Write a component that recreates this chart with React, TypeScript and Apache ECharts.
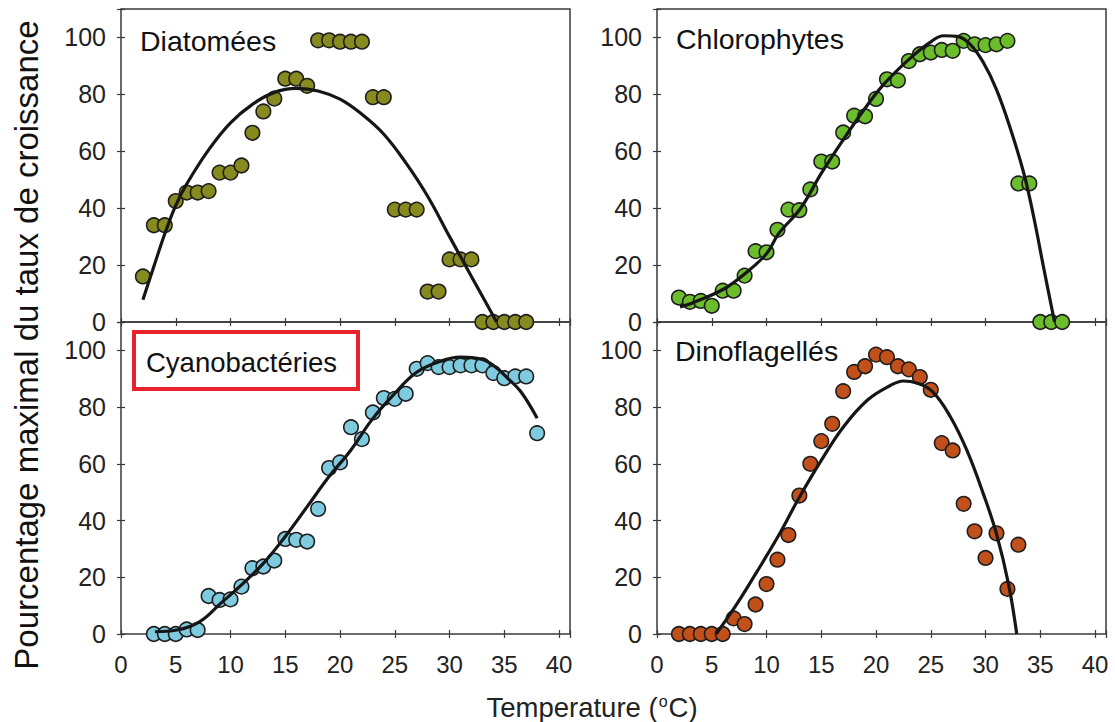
import React, { useEffect, useRef } from "react";
import * as echarts from "echarts";

// ---------- Data ----------
const panelNames = ["Diatomées", "Chlorophytes", "Cyanobactéries", "Dinoflagellés"];
const xTicks = [0, 5, 10, 15, 20, 25, 30, 35, 40];
const yTicks = [0, 20, 40, 60, 80, 100];

const diaTemps = [2, 3, 4, 5, 6, 7, 8, 9, 10, 11, 12, 13, 14, 15, 16, 17, 18, 19, 20, 21, 22, 23, 24, 25, 26, 27, 28, 29, 30, 31, 32, 33, 34, 35, 36, 37];
const diaValues = [16, 34, 34, 42.5, 45.5, 45.5, 46, 52.5, 52.5, 55, 66.5, 74, 78.5, 85.5, 85.5, 83, 99, 99, 98.5, 98.5, 98.5, 79, 79, 39.5, 39.5, 39.5, 10.7, 10.7, 22, 22, 22, 0, 0, 0, 0, 0];
const diaCurveX = [2, 3, 4, 5, 6, 8, 10, 12, 14, 16, 18, 20, 22, 24, 26, 28, 30, 32, 34.3];
const diaCurveY = [7.8, 19.5, 31, 41, 48.5, 60.5, 70, 76.5, 80.7, 82.1, 81.2, 78.3, 73, 66, 56, 44.2, 30, 16, 0];

const chlTemps = [2, 3, 4, 5, 6, 7, 8, 9, 10, 11, 12, 13, 14, 15, 16, 17, 18, 19, 20, 21, 22, 23, 24, 25, 26, 27, 28, 29, 30, 31, 32, 33, 34, 35, 36, 37];
const chlValues = [8.6, 7.1, 7.4, 5.7, 11, 11, 16.3, 24.9, 24.5, 32.4, 39.5, 39.3, 46.6, 56.4, 56.4, 66.6, 72.5, 72.3, 78.4, 85.3, 84.9, 91.7, 94.1, 94.7, 95.6, 95.3, 98.8, 97.6, 97.3, 97.6, 98.8, 48.7, 48.7, 0, 0, 0];
const chlCurveX = [2.1, 3.3, 6.1, 8, 10, 11.1, 13.1, 15, 17, 18.9, 20.7, 23, 24.9, 26.2, 27.4, 28.6, 29.8, 31, 32.2, 33.5, 34.4, 35.3, 36.3];
const chlCurveY = [5.3, 6.8, 11.6, 16.9, 24, 31, 39.9, 52.2, 64, 74.6, 83.5, 92.3, 98.2, 100.6, 100.4, 97.6, 91.2, 81.7, 68.8, 52.2, 36.9, 19.2, 0];

const cyaTemps = [3, 4, 5, 6, 7, 8, 9, 10, 11, 12, 13, 14, 15, 16, 17, 18, 19, 20, 21, 22, 23, 24, 25, 26, 27, 28, 29, 30, 31, 32, 33, 34, 35, 36, 37, 38];
const cyaValues = [0, 0, 0, 1.6, 1.4, 13.4, 12, 12.2, 16.7, 23.2, 23.8, 25.9, 33.5, 33.2, 32.6, 44.1, 58.5, 60.5, 72.9, 68.7, 78.1, 83.2, 82.9, 84.7, 93.5, 95.5, 94.1, 94.1, 94.7, 94.7, 94.7, 92, 90.2, 90.8, 90.8, 70.8];
const cyaCurveX = [3.1, 5.1, 7.2, 9.1, 11, 13, 15, 17, 19, 21, 22.9, 24.9, 26.9, 28.9, 31, 32.9, 34.1, 35.3, 36.5, 38];
const cyaCurveY = [0.8, 1.4, 4.4, 10.8, 17.3, 24.9, 34.4, 44.9, 55.5, 64.9, 75.5, 84.4, 92, 95.8, 97.6, 96.9, 94.4, 90.2, 85.5, 76.1];

const dinTemps = [2, 3, 4, 5, 6, 7, 8, 9, 10, 11, 12, 13, 14, 15, 16, 17, 18, 19, 20, 21, 22, 23, 24, 25, 26, 27, 28, 29, 30, 31, 32, 33];
const dinValues = [0, 0, 0, 0, 0, 5.5, 3.5, 10.4, 17.6, 26.2, 34.9, 48.8, 60, 68, 74.1, 85.6, 92.4, 94.4, 98.5, 97.6, 94.4, 93.3, 90.6, 86.1, 67.3, 64.7, 45.9, 36.2, 26.8, 35.5, 15.9, 31.5];
const dinCurveX = [5.4, 7.3, 9.1, 11.1, 13, 15, 17, 19.2, 21.3, 22.5, 23.7, 25.2, 26.8, 28.3, 29.8, 31, 32.1, 32.85];
const dinCurveY = [0, 10.6, 21.8, 34.7, 48.2, 61.2, 72.9, 82.4, 87.6, 89.2, 88.5, 85.3, 76.5, 64.7, 49.4, 35.3, 17.6, 0];

const panelColors = ["#878a1f", "#6cbd2c", "#7ecbe0", "#c1501b"];

const FONT = "'Liberation Sans', Arial, Helvetica, sans-serif";

export default function App() {
  const ref = useRef<HTMLDivElement>(null);

  useEffect(() => {
    document.body.style.margin = "0";
    if (!ref.current) return;
    const chart = echarts.init(ref.current, undefined, { renderer: "svg" });

    const temps = [diaTemps, chlTemps, cyaTemps, dinTemps];
    const vals = [diaValues, chlValues, cyaValues, dinValues];
    const cx = [diaCurveX, chlCurveX, cyaCurveX, dinCurveX];
    const cy = [diaCurveY, chlCurveY, cyaCurveY, dinCurveY];

    const grids = [
      { left: 121, top: 9, width: 449, height: 313 },
      { left: 657, top: 9, width: 449, height: 313 },
      { left: 121, top: 322, width: 449, height: 312 },
      { left: 657, top: 322, width: 449, height: 312 },
    ].map((g) => ({ ...g, show: true, borderColor: "#3a3a3a", borderWidth: 1.5, backgroundColor: "transparent" }));

    const tickStyle = { show: true, inside: true, length: 4, lineStyle: { color: "#3a3a3a", width: 1.2 } };

    const xAxes: any[] = [];
    const yAxes: any[] = [];
    for (let i = 0; i < 4; i++) {
      const isBottom = i >= 2;
      xAxes.push({
        type: "value", gridIndex: i, position: "bottom", min: 0, max: 41, interval: 5,
        axisLine: { show: false }, axisTick: tickStyle, splitLine: { show: false },
        axisLabel: {
          show: isBottom, fontSize: 24, color: "#222", fontFamily: FONT, margin: 18,
          formatter: (v: number) => (xTicks.includes(v) ? String(v) : ""),
        },
      });
      xAxes.push({
        type: "value", gridIndex: i, position: "top", min: 0, max: 41, interval: 5,
        axisLine: { show: false }, axisTick: tickStyle, splitLine: { show: false },
        axisLabel: { show: false },
      });
      yAxes.push({
        type: "value", gridIndex: i, position: "left", min: 0, max: 110, interval: 20,
        axisLine: { show: false }, axisTick: tickStyle, splitLine: { show: false },
        axisLabel: {
          show: true, fontSize: 25, color: "#222", fontFamily: FONT, margin: 15,
          formatter: (v: number) => (yTicks.includes(v) ? String(v) : ""),
        },
      });
      yAxes.push({
        type: "value", gridIndex: i, position: "right", min: 0, max: 110, interval: 20,
        axisLine: { show: false }, axisTick: tickStyle, splitLine: { show: false },
        axisLabel: { show: false },
      });
    }

    const series: any[] = [];
    for (let i = 0; i < 4; i++) {
      series.push({
        type: "scatter", name: panelNames[i], xAxisIndex: 2 * i, yAxisIndex: 2 * i,
        data: temps[i].map((t, k) => [t, vals[i][k]]),
        symbol: "circle", symbolSize: 14.5, clip: false,
        itemStyle: { color: panelColors[i], borderColor: "#1e1e1e", borderWidth: 1.6, opacity: 1 },
        z: 3,
      });
      series.push({
        type: "line", xAxisIndex: 2 * i, yAxisIndex: 2 * i,
        data: cx[i].map((x, k) => [x, cy[i][k]]),
        showSymbol: false, symbol: "none", smooth: 0.4,
        lineStyle: { color: "#161616", width: 3.2 },
        z: 4,
      });
    }

    const labelStyle = (text: string) => ({ text, fontSize: 28.5, fontFamily: FONT, fill: "#111", verticalAlign: "middle", align: "left" });

    chart.setOption({
      animation: false,
      backgroundColor: "#ffffff",
      grid: grids,
      xAxis: xAxes,
      yAxis: yAxes,
      series,
      graphic: [
        { type: "text", x: 140, y: 41, style: labelStyle(panelNames[0]), z: 10 },
        { type: "text", x: 676, y: 39, style: labelStyle(panelNames[1]), z: 10 },
        {
          type: "rect", shape: { x: 134, y: 332, width: 224, height: 57 },
          style: { fill: "#ffffff", stroke: "#e8232b", lineWidth: 4 }, z: 9,
        },
        { type: "text", x: 146, y: 362, style: { ...labelStyle(panelNames[2]), fontSize: 27.5 }, z: 10 },
        { type: "text", x: 675, y: 351, style: labelStyle(panelNames[3]), z: 10 },
        {
          type: "text", x: 26, y: 345, rotation: Math.PI / 2,
          style: {
            text: "Pourcentage maximal du taux de croissance", fontSize: 33, fontFamily: FONT,
            fill: "#111", align: "center", verticalAlign: "middle",
          },
        },
        {
          type: "text", x: 592, y: 707,
          style: {
            text: "{a|Temperature (}{s|o}{a|C)}", fontFamily: FONT, fill: "#222",
            align: "center", verticalAlign: "middle",
            rich: {
              a: { fontSize: 27.5, fontFamily: FONT, fill: "#222", color: "#222" },
              s: { fontSize: 16, fontFamily: FONT, fill: "#222", color: "#222", verticalAlign: "top", padding: [0, 1, 12, 1] },
            },
          },
        },
      ],
    });

    return () => chart.dispose();
  }, []);

  return <div ref={ref} style={{ width: 1115, height: 722 }} />;
}
